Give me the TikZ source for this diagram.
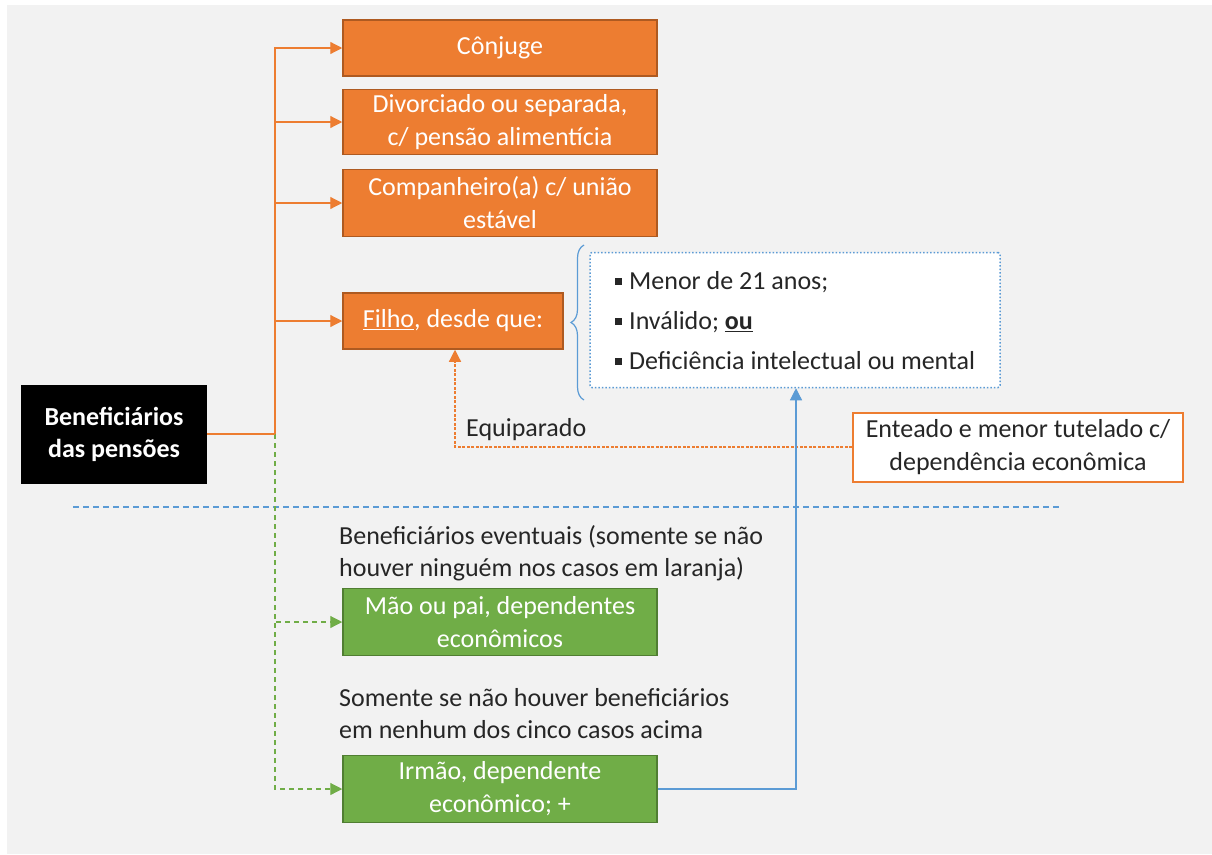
\documentclass[tikz,border=0pt]{standalone}
\usepackage{fontspec}
\setmainfont{Carlito}
\usetikzlibrary{arrows.meta,decorations.pathreplacing}

\definecolor{fundo}{HTML}{F2F2F2}
\definecolor{laranja}{HTML}{ED7D31}
\definecolor{laranjaesc}{HTML}{AE5A21}
\definecolor{verde}{HTML}{70AD47}
\definecolor{verdeesc}{HTML}{507E32}
\definecolor{azul}{HTML}{5B9BD5}
\definecolor{texto}{HTML}{262626}

\newcommand{\bul}{\rule[5pt]{7pt}{7pt}\hspace{7pt}}

\tikzset{
  caixa/.style={draw=laranjaesc, fill=laranja, line width=1.5pt, text=white,
    align=center, inner sep=0pt, minimum width=314pt, minimum height=56pt,
    font=\fontsize{26}{33}\selectfont},
  caixaverde/.style={caixa, draw=verdeesc, fill=verde, minimum height=67pt},
  rotulo/.style={text=texto, align=left, inner sep=0pt, anchor=west,
    font=\fontsize{26}{32}\selectfont},
  ramo/.style={laranja, line width=1.2pt, -{Triangle[length=12pt,width=12pt]}},
  ramoverde/.style={verde, line width=1.2pt, dash pattern=on 5pt off 4pt,
    -{Triangle[length=12pt,width=12pt]}},
}

\begin{document}
\begin{tikzpicture}[x=1pt, y=-1pt]
\useasboundingbox (0,0) rectangle (1212,854);
% Background
\fill[fundo] (7,5) rectangle (1212,854);

% Root
\node[fill=black, text=white, align=center, inner sep=0pt, minimum width=186pt,
  minimum height=99pt, font=\fontsize{26}{32}\selectfont\bfseries]
  (benef) at (114,434) {Beneficiários\\das pensões};

% Orange cases
\node[caixa] (conjuge) at (500,48) {Cônjuge};
\node[caixa, minimum height=65pt] (divorciado) at (500,122) {Divorciado ou separada,\\c/ pensão alimentícia};
\node[caixa, minimum height=67pt] (companheiro) at (500,203) {Companheiro(a) c/ união\\estável};
\node[caixa, minimum width=220pt] (filho) at (453,321) {\underline{Filho}, desde que:};

% Conditions
\node[draw=azul, fill=white, line width=1.5pt, dotted, rounded corners=2pt,
  minimum width=410pt, minimum height=135pt] (cond) at (795,320) {};
\node[rotulo, font=\fontsize{26}{40}\selectfont] (itens) at (615,321)
  {\bul Menor de 21 anos;\\\bul Inválido; \underline{\textbf{ou}}\\\bul Deficiência intelectual ou mental};
\draw[azul, line width=1.2pt, decorate, decoration={brace, amplitude=13pt}]
  (584,400) -- (584,245);

% Equiparado
\node[draw=laranja, fill=white, line width=2pt, align=center, inner sep=0pt,
  minimum width=330pt, minimum height=69pt, text=texto,
  font=\fontsize{26}{33}\selectfont]
  (enteado) at (1018,447) {Enteado e menor tutelado c/\\dependência econômica};
\coordinate (eq) at (455,447);
\draw[laranja, line width=1.2pt, dash pattern=on 3pt off 1.5pt,
  -{Triangle[length=12pt,width=12pt]}] (enteado.west) -- (eq) -- (eq |- filho.south);
\node[rotulo] (lbeq) at (466,430) {Equiparado};

% Separator
\draw[azul, line width=1.3pt, dash pattern=on 6pt off 4pt] (73,507) -- (1060,507);

% Green cases
\node[rotulo] (leventual) at (339,553) {Beneficiários eventuais (somente se não\\houver ninguém nos casos em laranja)};
\node[caixaverde] (mae) at (500,622) {Mão ou pai, dependentes\\econômicos};
\node[rotulo] (lsomente) at (339,714) {Somente se não houver beneficiários\\em nenhum dos cinco casos acima};
\node[caixaverde] (irmao) at (500,789) {Irmão, dependente\\econômico; +};

% Connectors
\coordinate (tronco) at (benef.east -| 275,0);
\draw[ramoverde] (tronco) |- (mae.west);
\draw[ramoverde] (tronco) |- (irmao.west);
\draw[laranja, line width=1.2pt] (benef.east) -- (tronco);
\draw[ramo] (tronco) |- (conjuge.west);
\draw[ramo] (tronco) |- (divorciado.west);
\draw[ramo] (tronco) |- (companheiro.west);
\draw[ramo] (tronco) |- (filho.west);
\draw[azul, line width=1.2pt, -{Triangle[length=12pt,width=12pt]}]
  (irmao.east) -| (cond.south -| 796,0);
\end{tikzpicture}
\end{document}
